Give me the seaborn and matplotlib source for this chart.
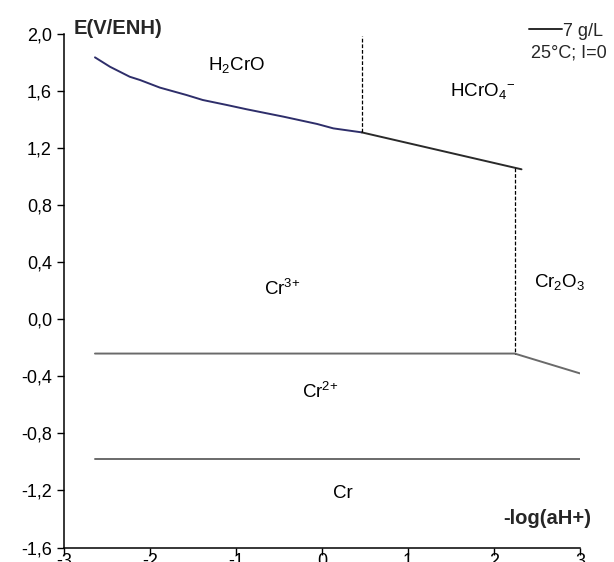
import matplotlib
matplotlib.use("Agg")
import matplotlib.pyplot as plt
import seaborn as sns

# ---- data ----
curve_x = [-2.645, -2.47, -2.24, -2.12, -1.89, -1.58, -1.39, -1.11, -0.88, -0.45, -0.06, 0.13, 0.46]
curve_y = [1.837, 1.771, 1.701, 1.678, 1.625, 1.573, 1.538, 1.503, 1.473, 1.421, 1.370, 1.339, 1.311]

upper_x = [0.46, 2.32]
upper_y = [1.311, 1.052]

cr32_x = [-2.645, 2.24, 3.0]
cr32_y = [-0.240, -0.240, -0.379]

cr2_x = [-2.645, 3.0]
cr2_y = [-0.978, -0.978]

dash1_x = [0.46, 0.46]
dash1_y = [1.311, 1.99]
dash2_x = [2.24, 2.24]
dash2_y = [1.063, -0.240]

xticks = [-3, -2, -1, 0, 1, 2, 3]
xtick_labels = ["-3", "-2", "-1", "0", "1", "2", "3"]
yticks = [-1.6, -1.2, -0.8, -0.4, 0.0, 0.4, 0.8, 1.2, 1.6, 2.0]
ytick_labels = ["-1,6", "-1,2", "-0,8", "-0,4", "0,0", "0,4", "0,8", "1,2", "1,6", "2,0"]

region_labels = [r"$\mathregular{H_2CrO}$", r"$\mathregular{HCrO_4{}^{-}}$", r"$\mathregular{Cr^{3{+}}}$",
                 r"$\mathregular{Cr_2O_3}$", r"$\mathregular{Cr^{2{+}}}$", "Cr"]
region_x = [-1.00, 1.87, -0.47, 2.76, -0.02, 0.24]
region_y = [1.78, 1.60, 0.21, 0.26, -0.51, -1.22]

ylabel = "E(V/ENH)"
xlabel = "-log(aH+)"
legend_label = "7 g/L"
conditions = "25°C; I=0"

# ---- style ----
sns.set_style("white")
plt.rcParams["font.family"] = ["Liberation Sans", "DejaVu Sans"]
plt.rcParams["mathtext.fontset"] = "custom"
plt.rcParams["mathtext.rm"] = "Liberation Sans"
plt.rcParams["mathtext.it"] = "Liberation Sans:italic"
plt.rcParams["mathtext.bf"] = "Liberation Sans:bold"

fig = plt.figure(figsize=(6.14, 5.62), dpi=100)
ax = fig.add_axes([0.105, 0.0258, 0.8395, 0.9135])

navy = "#2e2e6a"
dark = "#2a2a2a"
gray = "#6a6a6a"

sns.lineplot(x=curve_x, y=curve_y, sort=False, estimator=None, color=navy, lw=1.4, ax=ax)
sns.lineplot(x=upper_x, y=upper_y, sort=False, estimator=None, color=dark, lw=1.4, ax=ax)
sns.lineplot(x=cr32_x, y=cr32_y, sort=False, estimator=None, color=gray, lw=1.4, ax=ax)
sns.lineplot(x=cr2_x, y=cr2_y, sort=False, estimator=None, color=gray, lw=1.4, ax=ax)
sns.lineplot(x=dash1_x, y=dash1_y, sort=False, estimator=None, color="black", lw=0.9,
             linestyle=(0, (3, 1.5)), ax=ax)
sns.lineplot(x=dash2_x, y=dash2_y, sort=False, estimator=None, color="black", lw=0.9,
             linestyle=(0, (3, 1.5)), ax=ax)

ax.set_xlim(-3, 3)
ax.set_ylim(-1.6, 2.0)
ax.set_xticks(xticks)
ax.set_xticklabels(xtick_labels)
ax.set_yticks(yticks)
ax.set_yticklabels(ytick_labels)
ax.tick_params(axis="both", direction="out", length=5, width=1, color="black",
               labelsize=13, labelcolor="black")
ax.tick_params(axis="x", bottom=True, pad=-1)
ax.tick_params(axis="y", left=True, pad=4)
for s in ["top", "right"]:
    ax.spines[s].set_visible(False)
for s in ["left", "bottom"]:
    ax.spines[s].set_color("black")
    ax.spines[s].set_linewidth(1.1)
ax.set_xlabel("")
ax.set_ylabel("")

for lab, x, y in zip(region_labels, region_x, region_y):
    ax.text(x, y, lab, ha="center", va="center", fontsize=13.5, color="black")

ax.text(-2.89, 2.04, ylabel, ha="left", va="center", fontsize=14.5, fontweight="bold",
        clip_on=False)
ax.text(3.13, -1.40, xlabel, ha="right", va="center", fontsize=14.5, fontweight="bold",
        clip_on=False)

handle = ax.lines[1]
leg = fig.legend([handle], [legend_label], loc="center left",
                 bbox_to_anchor=(529 / 614, 1 - 31 / 562), frameon=False,
                 handlelength=1.8, handletextpad=0.1, borderpad=0, borderaxespad=0,
                 fontsize=13)
fig.text(607 / 614, 1 - 53 / 562, conditions, ha="right", va="center", fontsize=13)

fig.savefig("out.png", dpi=100)
